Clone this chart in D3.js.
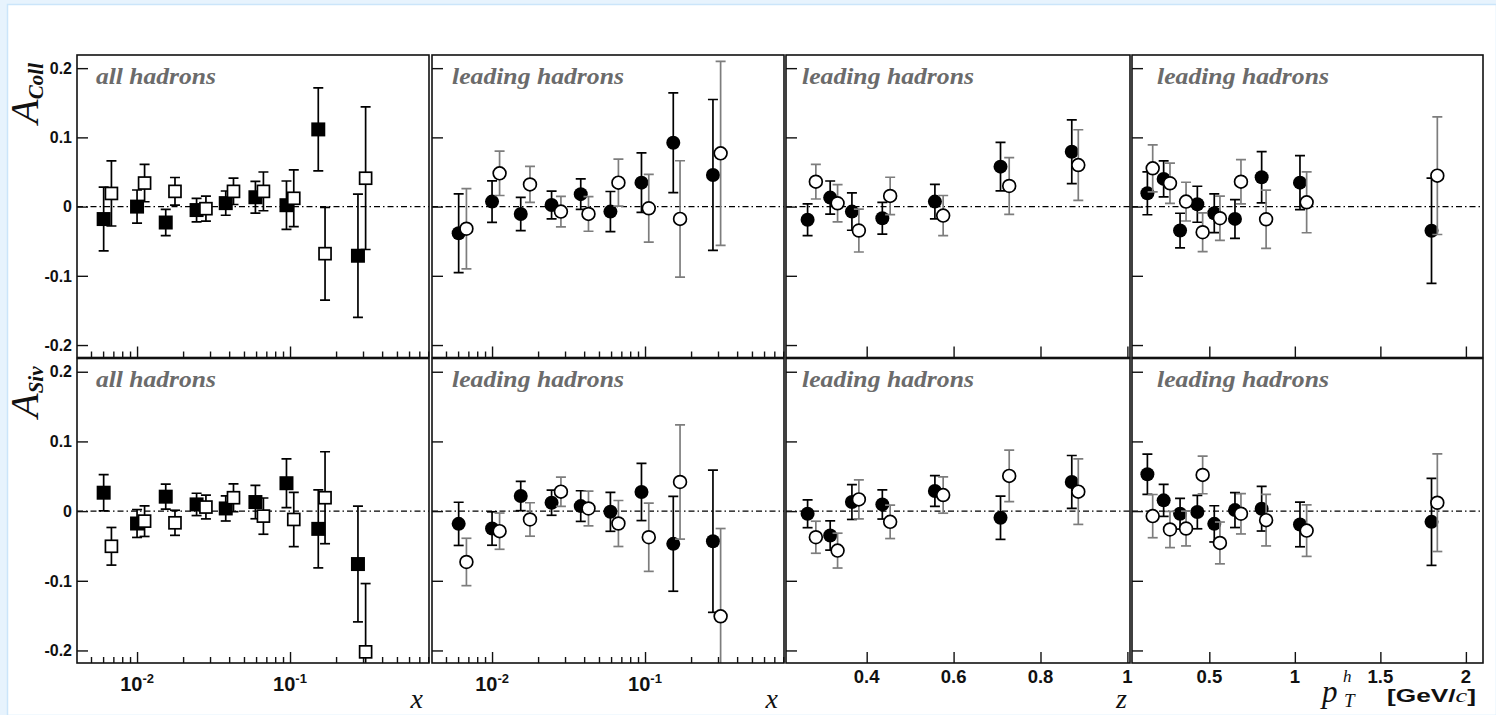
<!DOCTYPE html>
<html>
<head>
<meta charset="utf-8">
<script src="https://cdn.jsdelivr.net/npm/d3@7"></script>
<style>
  body { margin: 0; background: #ffffff; }
  svg { display: block; }
</style>
</head>
<body>
<svg id="chart" width="1496" height="715"></svg>
<script>
// ---------- bin positions ----------
// x bins (log axis); the open-symbol series is drawn slightly shifted
const xBinsFilled = [0.00605, 0.0100, 0.0154, 0.0245, 0.0380, 0.0594, 0.0948, 0.153, 0.278];
const xBinsOpen   = [0.0068, 0.0112, 0.0177, 0.0282, 0.0427, 0.0670, 0.1058, 0.1694, 0.312];
// z bins
const zBinsFilled = [0.264, 0.316, 0.366, 0.436, 0.557, 0.708, 0.872];
const zBinsOpen   = [0.283, 0.333, 0.382, 0.454, 0.576, 0.728, 0.887];
// pT bins [GeV/c]
const ptBinsFilled = [0.138, 0.233, 0.329, 0.430, 0.529, 0.650, 0.806, 1.030, 1.799];
const ptBinsOpen   = [0.169, 0.270, 0.364, 0.461, 0.562, 0.685, 0.832, 1.069, 1.833];

// ---------- Collins asymmetry ----------
const collAllFilled    = [-0.018, 0.000, -0.023, -0.005, 0.005, 0.0135, 0.002, 0.1115, -0.071];
const collAllFilledErr = [0.046, 0.024, 0.019, 0.017, 0.0175, 0.023, 0.035, 0.060, 0.089];
const collAllOpen      = [0.019, 0.034, 0.022, -0.003, 0.022, 0.022, 0.012, -0.068, 0.041];
const collAllOpenErr   = [0.047, 0.027, 0.020, 0.018, 0.019, 0.028, 0.041, 0.067, 0.103];

const collLeadXFilled    = [-0.0385, 0.0072, -0.0106, 0.0024, 0.018, -0.0072, 0.0346, 0.0923, 0.0457];
const collLeadXFilledErr = [0.057, 0.030, 0.024, 0.020, 0.022, 0.029, 0.043, 0.072, 0.109];
const collLeadXOpen      = [-0.032, 0.048, 0.032, -0.0072, -0.0106, 0.0346, -0.0024, -0.0178, 0.0769];
const collLeadXOpenErr   = [0.058, 0.032, 0.026, 0.022, 0.025, 0.034, 0.049, 0.084, 0.133];

const collZFilled    = [-0.019, 0.013, -0.0072, -0.0168, 0.0072, 0.0577, 0.0793];
const collZFilledErr = [0.023, 0.024, 0.027, 0.023, 0.025, 0.035, 0.046];
const collZOpen      = [0.036, 0.0048, -0.0346, 0.0154, -0.013, 0.0298, 0.060];
const collZOpenErr   = [0.025, 0.027, 0.031, 0.027, 0.029, 0.041, 0.051];

const collPtFilled    = [0.0192, 0.040, -0.0346, 0.0034, -0.0096, -0.0178, 0.0423, 0.0346, -0.035];
const collPtFilledErr = [0.031, 0.026, 0.025, 0.026, 0.028, 0.028, 0.037, 0.039, 0.076];
const collPtOpen      = [0.0553, 0.0337, 0.0072, -0.037, -0.0168, 0.036, -0.0183, 0.0062, 0.0447];
const collPtOpenErr   = [0.034, 0.029, 0.028, 0.028, 0.032, 0.032, 0.042, 0.044, 0.085];

// ---------- Sivers asymmetry ----------
const sivAllFilled    = [0.0264, -0.0178, 0.0207, 0.0096, 0.0038, 0.013, 0.040, -0.0255, -0.076];
const sivAllFilledErr = [0.026, 0.020, 0.018, 0.016, 0.018, 0.024, 0.035, 0.056, 0.083];
const sivAllOpen      = [-0.0505, -0.0144, -0.0168, 0.0058, 0.0192, -0.0072, -0.012, 0.0192, -0.202];
const sivAllOpenErr   = [0.027, 0.022, 0.018, 0.017, 0.020, 0.026, 0.039, 0.066, 0.098];

const sivLeadXFilled    = [-0.0183, -0.025, 0.0216, 0.012, 0.0072, -0.001, 0.0274, -0.047, -0.0433];
const sivLeadXFilledErr = [0.031, 0.024, 0.021, 0.018, 0.022, 0.028, 0.041, 0.068, 0.102];
const sivLeadXOpen      = [-0.073, -0.0288, -0.012, 0.0279, 0.0038, -0.0178, -0.0375, 0.0418, -0.151];
const sivLeadXOpenErr   = [0.034, 0.026, 0.024, 0.021, 0.025, 0.033, 0.049, 0.082, 0.126];

const sivZFilled    = [-0.0038, -0.035, 0.013, 0.0096, 0.0288, -0.0096, 0.0418];
const sivZFilledErr = [0.020, 0.021, 0.025, 0.021, 0.022, 0.031, 0.038];
const sivZOpen      = [-0.0375, -0.0567, 0.0168, -0.0154, 0.023, 0.0505, 0.0279];
const sivZOpenErr   = [0.023, 0.025, 0.028, 0.024, 0.026, 0.037, 0.047];

const sivPtFilled    = [0.0529, 0.0154, -0.0038, -0.0014, -0.0183, 0.0014, 0.0034, -0.0192, -0.0154];
const sivPtFilledErr = [0.029, 0.023, 0.022, 0.024, 0.026, 0.025, 0.032, 0.032, 0.0625];
const sivPtOpen      = [-0.0072, -0.0264, -0.025, 0.0519, -0.0457, -0.0038, -0.013, -0.028, 0.012];
const sivPtOpenErr   = [0.031, 0.026, 0.025, 0.027, 0.030, 0.029, 0.037, 0.037, 0.070];

// ---------- axis ticks and labels ----------
const yTicks = [-0.2, -0.1, 0, 0.1, 0.2];
const yTickLabels = ["-0.2", "-0.1", "0", "0.1", "0.2"];
const logMajorTicks = [0.01, 0.1];
const logMajorExp = ["-2", "-1"];
const logMinorTicks = [0.005, 0.006, 0.007, 0.008, 0.009,
                       0.02, 0.03, 0.04, 0.05, 0.06, 0.07, 0.08, 0.09,
                       0.2, 0.3, 0.4, 0.5, 0.6, 0.7, 0.8];
const zTicks = [0.4, 0.6, 0.8, 1];
const zTickLabels = ["0.4", "0.6", "0.8", "1"];
const ptTicks = [0.5, 1, 1.5, 2];
const ptTickLabels = ["0.5", "1", "1.5", "2"];
const panelLabels = [["all hadrons", "leading hadrons", "leading hadrons", "leading hadrons"],
                     ["all hadrons", "leading hadrons", "leading hadrons", "leading hadrons"]];
const rowTitles = ["Coll", "Siv"];

// ---------- layout ----------
const svg = d3.select("#chart");
const W = 1496, H = 715;
const cols = [[77, 429], [432, 784], [786, 1130], [1132, 1483]];
const rows = [[55, 357.5], [358.5, 663]];
const yDomain = [-0.218, 0.219];
const SANS = "'Liberation Sans', Arial, sans-serif";
const SERIF = "'Liberation Serif', 'Times New Roman', serif";

// page frame
svg.append("rect").attr("width", W).attr("height", H).attr("fill", "#e7f3fd");
svg.append("rect").attr("x", 7.5).attr("y", 4.5).attr("width", W - 7).attr("height", H - 4)
  .attr("fill", "#ffffff").attr("stroke", "#cbe5fa").attr("stroke-width", 1.5);

const colCfg = [
  { type: "log", domain: [0.00405, 0.81], xf: xBinsFilled, xo: xBinsOpen, marker: "square" },
  { type: "log", domain: [0.00405, 0.81], xf: xBinsFilled, xo: xBinsOpen, marker: "circle" },
  { type: "lin", domain: [0.2143, 1.006], xf: zBinsFilled, xo: zBinsOpen, marker: "circle",
    ticks: zTicks, labels: zTickLabels },
  { type: "lin", domain: [0.048, 2.1], xf: ptBinsFilled, xo: ptBinsOpen, marker: "circle",
    ticks: ptTicks, labels: ptTickLabels }
];
const rowData = [
  [[collAllFilled, collAllFilledErr, collAllOpen, collAllOpenErr],
   [collLeadXFilled, collLeadXFilledErr, collLeadXOpen, collLeadXOpenErr],
   [collZFilled, collZFilledErr, collZOpen, collZOpenErr],
   [collPtFilled, collPtFilledErr, collPtOpen, collPtOpenErr]],
  [[sivAllFilled, sivAllFilledErr, sivAllOpen, sivAllOpenErr],
   [sivLeadXFilled, sivLeadXFilledErr, sivLeadXOpen, sivLeadXOpenErr],
   [sivZFilled, sivZFilledErr, sivZOpen, sivZOpenErr],
   [sivPtFilled, sivPtFilledErr, sivPtOpen, sivPtOpenErr]]
];
const labelOffset = [19, 20, 16, 25];

function drawSeries(g, x, y, xs, vals, errs, marker, open, barColor) {
  const cap = 5;
  const s = g.append("g");
  xs.forEach((xv, i) => {
    const cx = x(xv);
    const yl = y(vals[i] - errs[i]), yh = y(vals[i] + errs[i]);
    s.append("line").attr("x1", cx).attr("x2", cx).attr("y1", yl).attr("y2", yh)
      .attr("stroke", barColor).attr("stroke-width", 1.7);
    [yl, yh].forEach(yy => s.append("line")
      .attr("x1", cx - cap).attr("x2", cx + cap).attr("y1", yy).attr("y2", yy)
      .attr("stroke", barColor).attr("stroke-width", 1.7));
  });
  xs.forEach((xv, i) => {
    const cx = x(xv), cy = y(vals[i]);
    if (marker === "square") {
      const sz = open ? 12 : 14;
      s.append("rect").attr("x", cx - sz / 2).attr("y", cy - sz / 2)
        .attr("width", sz).attr("height", sz)
        .attr("fill", open ? "#ffffff" : "#000000")
        .attr("stroke", "#000000").attr("stroke-width", open ? 1.7 : 0);
    } else {
      s.append("circle").attr("cx", cx).attr("cy", cy).attr("r", open ? 6.4 : 7)
        .attr("fill", open ? "#ffffff" : "#000000")
        .attr("stroke", "#000000").attr("stroke-width", open ? 1.7 : 0);
    }
  });
}

rows.forEach(([y0, y1], r) => {
  const y = d3.scaleLinear().domain(yDomain).range([y1, y0]);
  cols.forEach(([x0, x1], c) => {
    const cfg = colCfg[c];
    const x = (cfg.type === "log" ? d3.scaleLog() : d3.scaleLinear())
      .domain(cfg.domain).range([x0, x1]);
    const g = svg.append("g");
    const clipId = `clip-${r}-${c}`;
    g.append("clipPath").attr("id", clipId).append("rect")
      .attr("x", x0).attr("y", y0).attr("width", x1 - x0).attr("height", y1 - y0);

    // zero reference line
    g.append("line").attr("x1", x0).attr("x2", x1).attr("y1", y(0)).attr("y2", y(0))
      .attr("stroke", "#000").attr("stroke-width", 1.2).attr("stroke-dasharray", "6,3,1.5,3");

    // y ticks (inward, left side)
    const ya = g.append("g").attr("transform", `translate(${x0},0)`)
      .call(d3.axisLeft(y).tickValues(yTicks).tickSize(-11).tickFormat(""));
    ya.select(".domain").remove();
    ya.selectAll(".tick line").attr("stroke", "#111").attr("stroke-width", 1.4);
    if (c === 0) {
      yTicks.forEach((t, i) => {
        g.append("text").attr("x", x0 - 5).attr("y", y(t)).attr("dy", "0.36em")
          .attr("text-anchor", "end").attr("font-family", SANS).attr("font-weight", "bold")
          .attr("font-size", 16).attr("fill", "#111").text(yTickLabels[i]);
      });
    }

    // x ticks (inward, bottom)
    if (cfg.type === "log") {
      const maj = g.append("g").attr("transform", `translate(0,${y1})`)
        .call(d3.axisBottom(x).tickValues(logMajorTicks).tickSize(-11).tickFormat(""));
      const min = g.append("g").attr("transform", `translate(0,${y1})`)
        .call(d3.axisBottom(x).tickValues(logMinorTicks).tickSize(-6).tickFormat(""));
      [maj, min].forEach(a => {
        a.select(".domain").remove();
        a.selectAll(".tick line").attr("stroke", "#111").attr("stroke-width", 1.4);
      });
      if (r === 1) {
        logMajorTicks.forEach((t, i) => {
          const tx = g.append("text").attr("x", x(t)).attr("y", 691)
            .attr("text-anchor", "middle").attr("font-family", SANS).attr("font-weight", "bold")
            .attr("font-size", 20).attr("fill", "#111");
          tx.append("tspan").text("10");
          tx.append("tspan").attr("dy", -8).attr("font-size", 13).text(logMajorExp[i]);
        });
      }
    } else {
      const a = g.append("g").attr("transform", `translate(0,${y1})`)
        .call(d3.axisBottom(x).tickValues(cfg.ticks).tickSize(-11).tickFormat(""));
      a.select(".domain").remove();
      a.selectAll(".tick line").attr("stroke", "#111").attr("stroke-width", 1.4);
      if (r === 1) {
        cfg.ticks.forEach((t, i) => {
          g.append("text").attr("x", x(t)).attr("y", 683)
            .attr("text-anchor", "middle").attr("font-family", SANS).attr("font-weight", "bold")
            .attr("font-size", 18.5).attr("fill", "#111").text(cfg.labels[i]);
        });
      }
    }

    // data
    const dg = g.append("g").attr("clip-path", `url(#${clipId})`);
    const [vf, ef, vo, eo] = rowData[r][c];
    drawSeries(dg, x, y, cfg.xf, vf, ef, cfg.marker, false, "#000");
    drawSeries(dg, x, y, cfg.xo, vo, eo, cfg.marker, true,
      cfg.marker === "circle" ? "#7d7d7d" : "#000");

    // panel label
    const lbl = panelLabels[r][c];
    g.append("text").attr("x", x0 + labelOffset[c]).attr("y", y0 + 28.5)
      .attr("font-family", SERIF).attr("font-style", "italic").attr("font-weight", "bold")
      .attr("font-size", 23.5).attr("fill", "#6b6b6b")
      .attr("textLength", lbl === "all hadrons" ? 120 : 172).attr("lengthAdjust", "spacingAndGlyphs")
      .text(lbl);

    // frame
    g.append("rect").attr("x", x0).attr("y", y0).attr("width", x1 - x0).attr("height", y1 - y0)
      .attr("fill", "none").attr("stroke", "#111").attr("stroke-width", 1.6);
  });

  // row title (rotated)
  const t = svg.append("text")
    .attr("transform", `translate(38,${y0 + 8}) rotate(-90)`)
    .attr("text-anchor", "end").attr("font-family", SERIF).attr("font-style", "italic")
    .attr("fill", "#111");
  t.append("tspan").attr("font-size", 40).text("A");
  t.append("tspan").attr("font-size", 21).attr("font-weight", "bold").attr("dy", 5).text(rowTitles[r]);
});

// x-axis titles
const xTitle = (xEnd, s) => svg.append("text").attr("x", xEnd).attr("y", 708)
  .attr("text-anchor", "end").attr("font-family", SERIF).attr("font-style", "italic")
  .attr("font-size", 28).attr("fill", "#111").text(s);
xTitle(423, "x");
xTitle(778, "x");
xTitle(1127, "z");

const pt = svg.append("g");
pt.append("text").attr("x", 1322).attr("y", 702).attr("font-family", SERIF).attr("font-style", "italic")
  .attr("font-size", 31).attr("fill", "#111").text("p");
pt.append("text").attr("x", 1343).attr("y", 682).attr("font-family", SERIF).attr("font-style", "italic")
  .attr("font-size", 17).attr("fill", "#111").text("h");
pt.append("text").attr("x", 1344).attr("y", 707).attr("font-family", SERIF).attr("font-style", "italic")
  .attr("font-size", 19).attr("fill", "#111").text("T");
const unit = pt.append("text").attr("x", 1387).attr("y", 702).attr("font-family", SANS)
  .attr("font-weight", "bold").attr("font-size", 19).attr("fill", "#111")
  .attr("textLength", 89).attr("lengthAdjust", "spacingAndGlyphs");
unit.append("tspan").text("[GeV/");
unit.append("tspan").attr("font-family", SERIF).attr("font-style", "italic").attr("font-weight", "normal").text("c");
unit.append("tspan").text("]");
</script>
</body>
</html>
